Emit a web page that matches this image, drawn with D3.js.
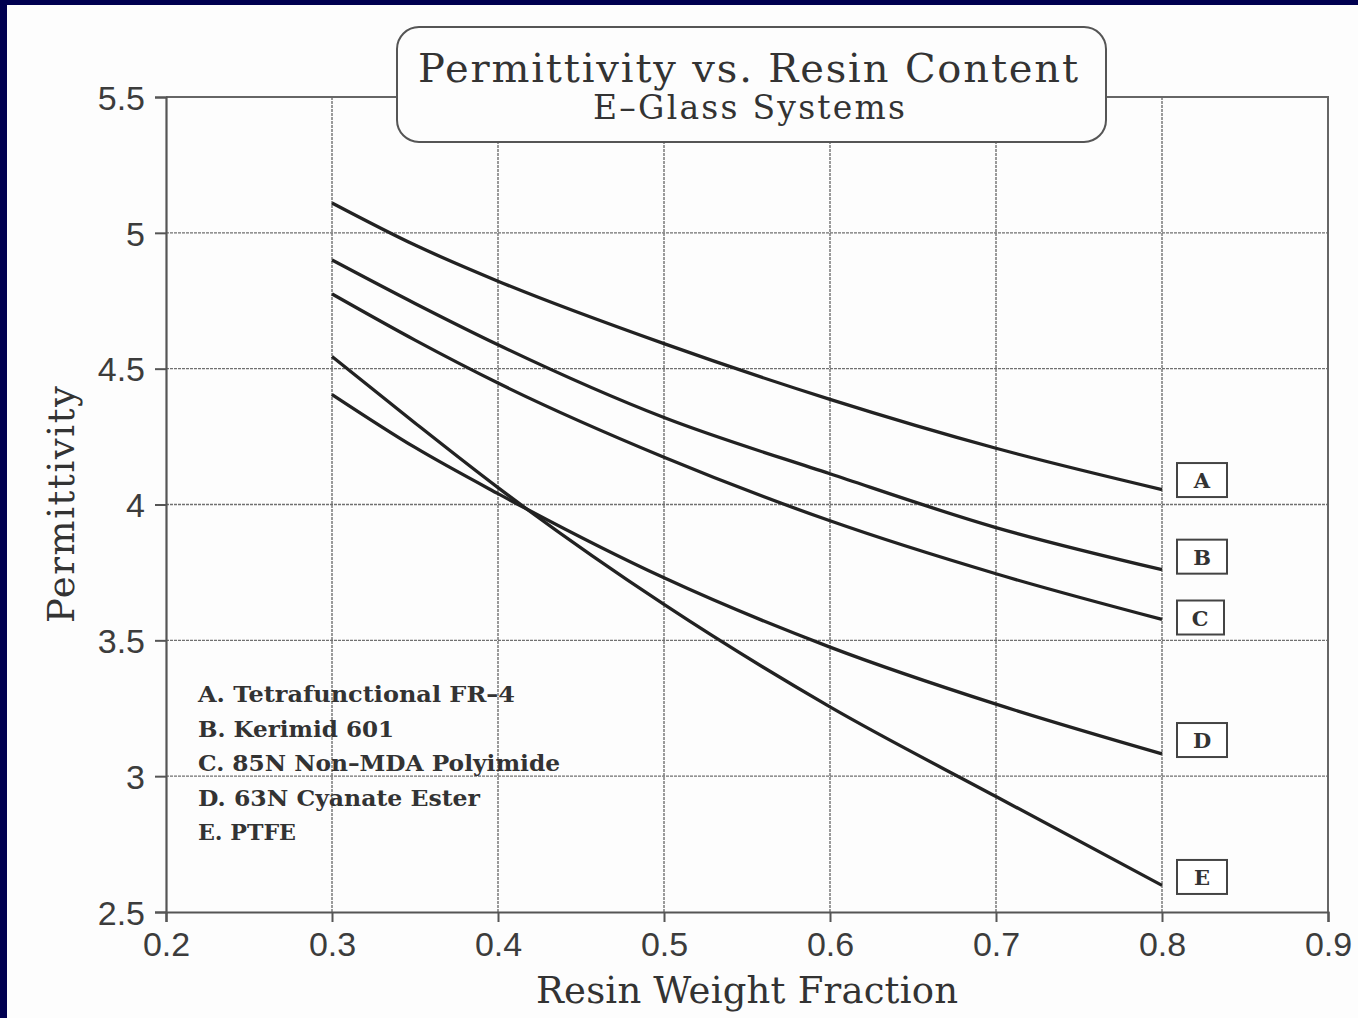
<!DOCTYPE html>
<html>
<head>
<meta charset="utf-8">
<script src="https://cdn.jsdelivr.net/npm/d3@7"></script>
<style>
  html, body { margin: 0; padding: 0; background: #000050; }
  #chart { display: block; }
</style>
</head>
<body>
<svg id="chart"></svg>
<script>
// chart data
const resinFraction = [0.3, 0.35, 0.4, 0.5, 0.6, 0.7, 0.8];
const seriesA = [5.11, 4.955, 4.822, 4.592, 4.387, 4.207, 4.055];
const seriesB = [4.9, 4.74, 4.588, 4.32, 4.113, 3.915, 3.76];
const seriesC = [4.775, 4.605, 4.447, 4.174, 3.94, 3.745, 3.577];
const seriesD = [4.405, 4.21, 4.04, 3.73, 3.475, 3.265, 3.082];
const seriesE = [4.545, 4.3, 4.062, 3.632, 3.255, 2.925, 2.598];
const seriesKeys = ["A", "B", "C", "D", "E"];
const legendNames = [
  "A. Tetrafunctional FR\u20134",
  "B. Kerimid 601",
  "C. 85N Non\u2013MDA Polyimide",
  "D. 63N Cyanate Ester",
  "E. PTFE",
];
// value where each end tag box is centred
const tagValues = [4.09, 3.808, 3.584, 3.133, 2.629];
const xTicks = [0.2, 0.3, 0.4, 0.5, 0.6, 0.7, 0.8, 0.9];
const yTicks = [2.5, 3, 3.5, 4, 4.5, 5, 5.5];

const width = 1358;
const height = 1018;

const svg = d3.select("#chart").attr("width", width).attr("height", height);

// white page with a navy edge on top and left
svg
  .append("rect")
  .attr("x", 7)
  .attr("y", 5)
  .attr("width", width - 7)
  .attr("height", height - 5)
  .attr("fill", "#fdfdfd");

// scales
const x = d3.scaleLinear().domain([0.2, 0.9]).range([166, 1328]);
const y = d3.scaleLinear().domain([2.5, 5.5]).range([912, 97]);

const tickFont = "'Liberation Sans', Arial, sans-serif";
const serifFont = "'DejaVu Serif', 'Liberation Serif', serif";

// grid lines
const grid = svg.append("g").attr("class", "grid");
grid
  .selectAll("line.gx")
  .data(xTicks.slice(1, -1))
  .enter()
  .append("line")
  .attr("x1", (d) => x(d))
  .attr("x2", (d) => x(d))
  .attr("y1", y(5.5))
  .attr("y2", y(2.5))
  .attr("stroke", "#707070")
  .attr("stroke-width", 1.4)
  .attr("stroke-dasharray", "3,1");
grid
  .selectAll("line.gy")
  .data(yTicks.slice(1, -1))
  .enter()
  .append("line")
  .attr("x1", x(0.2))
  .attr("x2", x(0.9))
  .attr("y1", (d) => y(d))
  .attr("y2", (d) => y(d))
  .attr("stroke", "#707070")
  .attr("stroke-width", 1.4)
  .attr("stroke-dasharray", "3,1");

// frame top and right
svg
  .append("path")
  .attr("d", `M${x(0.2)},${y(5.5)}H${x(0.9)}V${y(2.5)}`)
  .attr("fill", "none")
  .attr("stroke", "#666")
  .attr("stroke-width", 2);

// axes
const xAxis = svg
  .append("g")
  .attr("transform", `translate(0,${y(2.5)})`)
  .call(d3.axisBottom(x).tickValues(xTicks).tickSize(10).tickPadding(10).tickFormat(d3.format(".1f")));
const yAxis = svg
  .append("g")
  .attr("transform", `translate(${x(0.2)},0)`)
  .call(d3.axisLeft(y).tickValues(yTicks).tickSize(11).tickPadding(10).tickFormat((d) => String(d)));

[xAxis, yAxis].forEach((ax) => {
  ax.select(".domain").attr("stroke", "#555").attr("stroke-width", 2.2);
  ax.selectAll(".tick line").attr("stroke", "#555").attr("stroke-width", 2);
  ax.selectAll(".tick text")
    .attr("fill", "#3c3c3c")
    .style("font-family", tickFont)
    .style("font-size", "34px");
});
yAxis.selectAll(".tick text").attr("dy", "0.36em");

// curves
const allSeries = [seriesA, seriesB, seriesC, seriesD, seriesE];
const line = d3
  .line()
  .x((d, i) => x(resinFraction[i]))
  .y((d) => y(d))
  .curve(d3.curveMonotoneX);

svg
  .selectAll("path.curve")
  .data(allSeries)
  .enter()
  .append("path")
  .attr("class", "curve")
  .attr("d", line)
  .attr("fill", "none")
  .attr("stroke", "#222")
  .attr("stroke-width", 3.3);

// end tags
const tags = svg
  .selectAll("g.tag")
  .data(seriesKeys)
  .enter()
  .append("g")
  .attr("class", "tag")
  .attr("transform", (d, i) => `translate(${x(0.8) + 15},${y(tagValues[i])})`);
tags
  .append("rect")
  .attr("x", 0)
  .attr("y", -17)
  .attr("width", (d) => (d === "C" ? 47 : 50))
  .attr("height", 34)
  .attr("fill", "#fff")
  .attr("stroke", "#444")
  .attr("stroke-width", 2);
tags
  .append("text")
  .attr("x", (d) => (d === "C" ? 23 : 25))
  .attr("y", 8)
  .attr("text-anchor", "middle")
  .style("font-family", serifFont)
  .style("font-weight", "bold")
  .style("font-size", "21px")
  .attr("fill", "#333")
  .text((d) => d);

// legend text
const legendWidths = [317, 196, 362, 282, 98];
svg
  .selectAll("text.legend")
  .data(legendNames)
  .enter()
  .append("text")
  .attr("class", "legend")
  .attr("x", 198)
  .attr("y", (d, i) => 702 + i * 34.5)
  .attr("textLength", (d, i) => legendWidths[i])
  .attr("lengthAdjust", "spacingAndGlyphs")
  .style("font-family", serifFont)
  .style("font-weight", "bold")
  .style("font-size", "23px")
  .attr("fill", "#333")
  .text((d) => d);

// axis titles
svg
  .append("text")
  .attr("x", (x(0.2) + x(0.9)) / 2)
  .attr("y", 1003)
  .attr("text-anchor", "middle")
  .attr("textLength", 422)
  .attr("lengthAdjust", "spacing")
  .style("font-family", serifFont)
  .style("font-size", "37px")
  .attr("fill", "#333")
  .text("Resin Weight Fraction");

svg
  .append("text")
  .attr("transform", `translate(74,${(y(2.5) + y(5.5)) / 2}) rotate(-90)`)
  .attr("text-anchor", "middle")
  .attr("textLength", 237)
  .attr("lengthAdjust", "spacing")
  .style("font-family", serifFont)
  .style("font-size", "37px")
  .attr("fill", "#333")
  .text("Permittivity");

// title box
svg
  .append("rect")
  .attr("x", 397)
  .attr("y", 27)
  .attr("width", 709)
  .attr("height", 115)
  .attr("rx", 22)
  .attr("fill", "#fdfdfd")
  .attr("stroke", "#555")
  .attr("stroke-width", 2);

svg
  .append("text")
  .attr("x", 748)
  .attr("y", 82)
  .attr("text-anchor", "middle")
  .attr("textLength", 660)
  .attr("lengthAdjust", "spacing")
  .style("font-family", serifFont)
  .style("font-size", "40px")
  .attr("fill", "#333")
  .text("Permittivity vs. Resin Content");

svg
  .append("text")
  .attr("x", 749)
  .attr("y", 119)
  .attr("text-anchor", "middle")
  .attr("textLength", 312)
  .attr("lengthAdjust", "spacing")
  .style("font-family", serifFont)
  .style("font-size", "33px")
  .attr("fill", "#333")
  .text("E\u2013Glass Systems");
</script>
</body>
</html>
